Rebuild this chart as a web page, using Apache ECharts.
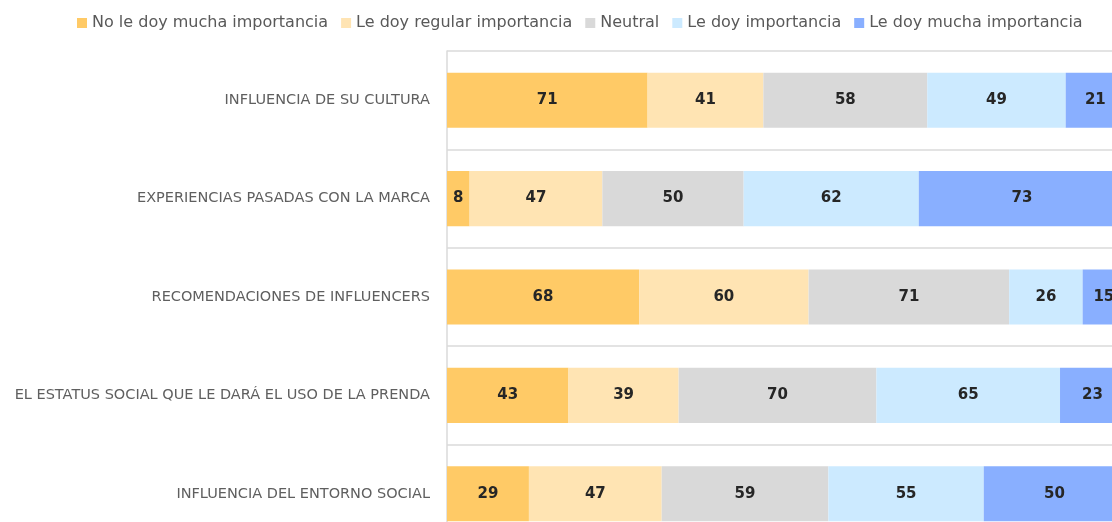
<!DOCTYPE html>
<html>
<head>
<meta charset="utf-8">
<script src="https://cdn.jsdelivr.net/npm/echarts@6/dist/echarts.min.js"></script>
<style>
  html, body { margin: 0; padding: 0; background: #fff; overflow: hidden; }
  #chart { width: 1125px; height: 543px; }
</style>
</head>
<body>
<div id="chart"></div>
<script>
var categories = [
  'INFLUENCIA DE SU CULTURA',
  'EXPERIENCIAS PASADAS CON LA MARCA',
  'RECOMENDACIONES DE INFLUENCERS',
  'EL ESTATUS SOCIAL QUE LE DARÁ EL USO DE LA PRENDA',
  'INFLUENCIA DEL ENTORNO SOCIAL'
];
var seriesNames = [
  'No le doy mucha importancia',
  'Le doy regular importancia',
  'Neutral',
  'Le doy importancia',
  'Le doy mucha importancia'
];
var noMucha = [71, 8, 68, 43, 29];
var regular = [41, 47, 60, 39, 47];
var neutral = [58, 50, 71, 70, 59];
var importancia = [49, 62, 26, 65, 55];
var mucha = [21, 73, 15, 23, 50];

var colors = ['#FFCA66', '#FFE4B3', '#D9D9D9', '#CCEAFF', '#89AFFF'];
var values = [noMucha, regular, neutral, importancia, mucha];

// the original picture is cropped on the right and bottom,
// so the chart is drawn a bit larger than the window
var chart = echarts.init(document.getElementById('chart'));

var series = values.map(function (vals, i) {
  return {
    name: seriesNames[i],
    type: 'bar',
    stack: 'total',
    barWidth: '56%',
    data: vals,
    itemStyle: { color: colors[i] },
    label: {
      show: true,
      position: 'inside',
      color: '#262626',
      fontWeight: 'bold',
      fontSize: 15,
      fontFamily: 'DejaVu Sans'
    }
  };
});

chart.setOption({
  animation: false,
  legend: {
    top: 10,
    left: 72,
    itemWidth: 10,
    itemHeight: 10,
    itemGap: 13,
    icon: 'rect',
    textStyle: { color: '#595959', fontSize: 16, fontFamily: 'DejaVu Sans' },
    data: seriesNames
  },
  grid: { left: 447, right: 0, top: 51, bottom: 0, containLabel: false },
  xAxis: {
    type: 'value',
    min: 0,
    max: 240,
    show: false
  },
  yAxis: {
    type: 'category',
    inverse: true,
    data: categories,
    axisLine: { show: true, lineStyle: { color: '#DADADA', width: 1.5 } },
    axisTick: { show: false },
    splitLine: { show: true, lineStyle: { color: '#DADADA', width: 1.5 } },
    axisLabel: {
      color: '#5F5F5F',
      fontSize: 14.5,
      fontFamily: 'DejaVu Sans',
      margin: 17
    }
  },
  series: series
});
</script>
</body>
</html>
